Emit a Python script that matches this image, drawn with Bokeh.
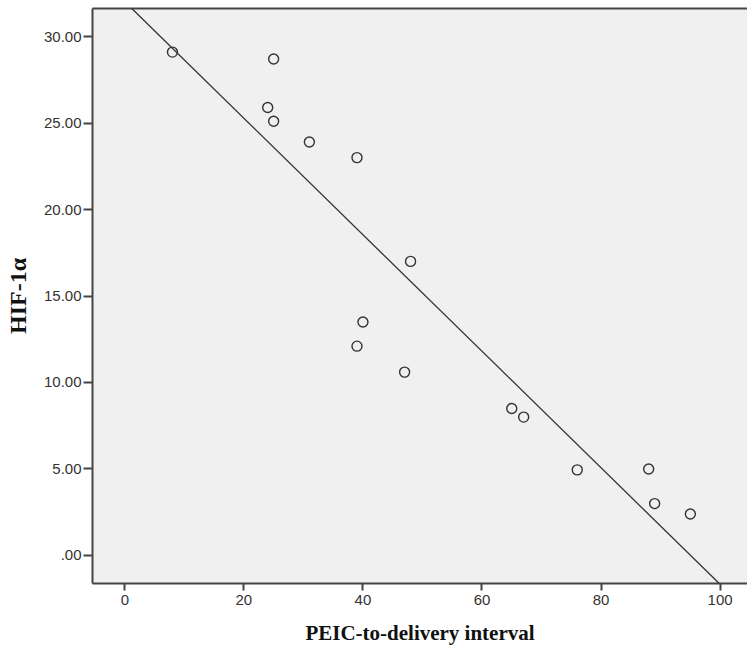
import numpy as np
from bokeh.plotting import figure
from bokeh.models import Range1d, LinearAxis, CustomJSTickFormatter, Slope, FixedTicker
from bokeh.embed import file_html
from bokeh.resources import INLINE

interval = [8, 25, 24, 25, 31, 39, 48, 40, 39, 47, 65, 67, 76, 88, 89, 95]
hif = [29.1, 28.7, 25.9, 25.1, 23.9, 23.0, 17.0, 13.5, 12.1, 10.6, 8.5, 8.0, 4.95, 5.0, 3.0, 2.4]
x_ticks = [0, 20, 40, 60, 80, 100]
y_ticks = [0, 5, 10, 15, 20, 25, 30]

m, b = np.polyfit(interval, hif, 1)

AX = "#444444"
p = figure(width=747, height=647, output_backend="svg", toolbar_location=None,
           x_range=Range1d(-5.43, 104.6), y_range=Range1d(-1.62, 31.62),
           min_border_left=92, min_border_right=0, min_border_top=8, min_border_bottom=64,
           x_axis_label="PEIC-to-delivery interval", y_axis_label="HIF-1α")
p.background_fill_color = "#f0f0f0"
p.border_fill_color = "white"
p.outline_line_color = None
p.grid.visible = False

for ax in (p.xaxis[0], p.yaxis[0]):
    ax.axis_line_color = AX
    ax.axis_line_width = 2
    ax.major_tick_line_color = AX
    ax.major_tick_line_width = 2
    ax.major_tick_in = 0
    ax.minor_tick_line_color = None
    ax.major_label_text_font = "Liberation Sans"
    ax.major_label_text_font_size = "15px"
    ax.major_label_text_color = "#333333"
    ax.axis_label_text_font = "Liberation Serif"
    ax.axis_label_text_font_style = "bold"
    ax.axis_label_text_color = "#111111"

p.xaxis.axis_label_text_font_size = "21px"
p.yaxis.axis_label_text_font_size = "24px"
p.xaxis.ticker = FixedTicker(ticks=x_ticks)
p.yaxis.ticker = FixedTicker(ticks=y_ticks)
p.xaxis.major_tick_out = 7
p.yaxis.major_tick_out = 9
p.xaxis.major_label_standoff = 4
p.yaxis.major_label_standoff = 2
p.xaxis.axis_label_standoff = 13
p.yaxis.axis_label_standoff = 10
p.yaxis.formatter = CustomJSTickFormatter(code="var s = tick.toFixed(2); return s.charAt(0) === '0' ? s.slice(1) : s;")

top = LinearAxis(ticker=FixedTicker(ticks=[]), axis_line_color=AX, axis_line_width=2,
                 major_tick_line_color=None, minor_tick_line_color=None,
                 major_label_text_font_size="0px")
p.add_layout(top, "above")

p.add_layout(Slope(gradient=m, y_intercept=b, line_color="#333333", line_width=1.3))
p.scatter(interval, hif, size=10, fill_color=None, line_color="#333333", line_width=1.4)

open("out.html", "w").write(file_html(p, INLINE))
